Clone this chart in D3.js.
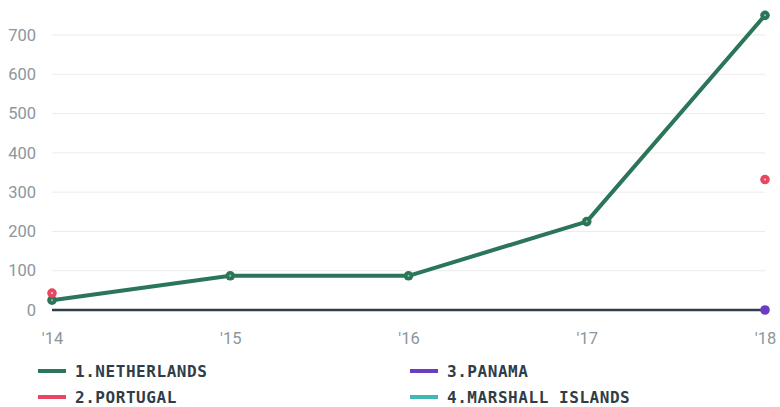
<!DOCTYPE html>
<html><head><meta charset="utf-8">
<script src="https://cdn.jsdelivr.net/npm/d3@7"></script>
<style>body{margin:0;background:#fff}svg{display:block}</style>
</head><body>
<svg id="c" width="780" height="407"></svg>
<script>
const years = ["'14","'15","'16","'17","'18"];
const yTicks = [0,100,200,300,400,500,600,700];
const seriesNames = ["1.NETHERLANDS","2.PORTUGAL","3.PANAMA","4.MARSHALL ISLANDS"];
const seriesColors = ["#2b7659","#e9475f","#6a3cc4","#3fb8b3"];
const netherlands = [25,87,87,225,750];
const portugal = [43,null,null,null,332];
const panama = [null,null,null,null,0];
const marshall = [null,null,null,null,null];
const seriesValues = [netherlands,portugal,panama,marshall];

const svg = d3.select("#c");
const x = d3.scalePoint().domain(years).range([52,765]);
const y = d3.scaleLinear().domain([0,700]).range([310,35]);
const tickFont = "Roboto, 'DejaVu Sans Condensed', sans-serif";

// grid
svg.append("g").selectAll("line").data(yTicks.filter(d=>d>0)).join("line")
  .attr("x1",52).attr("x2",765).attr("y1",d=>y(d)).attr("y2",d=>y(d))
  .attr("stroke","#ebebeb").attr("stroke-width",1);

// y axis labels
const yAxis = svg.append("g").attr("transform","translate(36,0)")
  .call(d3.axisLeft(y).tickValues(yTicks).tickSize(0).tickPadding(0));
yAxis.select(".domain").remove();
yAxis.selectAll("text").attr("fill","#8c969b").attr("font-size","16.5px")
  .attr("font-family",tickFont);

// x axis labels
const xAxis = svg.append("g").attr("transform","translate(0,332)")
  .call(d3.axisBottom(x).tickSize(0).tickPadding(0));
xAxis.select(".domain").remove();
xAxis.selectAll("text").attr("fill","#8c969b").attr("font-size","16.5px").attr("dy","0.71em")
  .attr("font-family",tickFont);

// zero line
svg.append("line").attr("x1",52).attr("x2",765).attr("y1",y(0)).attr("y2",y(0))
  .attr("stroke","#333f48").attr("stroke-width",2.5);

// lines & points
seriesValues.forEach((vals,i)=>{
  const all = vals.map((v,j)=>({v, k:years[j]}));
  const pts = all.filter(d=>d.v!==null);
  const col = seriesColors[i];
  svg.append("path").datum(all)
    .attr("d", d3.line().defined(d=>d.v!==null).x(d=>x(d.k)).y(d=>y(d.v)))
    .attr("fill","none").attr("stroke",col).attr("stroke-width",4)
    .attr("stroke-linejoin","round");
  const g = svg.append("g");
  g.selectAll("circle.o").data(pts).join("circle").attr("class","o")
    .attr("cx",d=>x(d.k)).attr("cy",d=>y(d.v)).attr("r",4.8).attr("fill",col);
  if(i<2){
    g.selectAll("circle.i").data(pts).join("circle").attr("class","i")
      .attr("cx",d=>x(d.k)).attr("cy",d=>y(d.v)).attr("r",1)
      .attr("fill", i===0 ? "#9cc9b5" : "#ffd3da");
  }
});

// legend
const legX = [38,38,410,410];
const legY = [371,397,371,397];
const leg = svg.append("g");
seriesNames.forEach((n,i)=>{
  leg.append("line").attr("x1",legX[i]).attr("x2",legX[i]+28)
    .attr("y1",legY[i]).attr("y2",legY[i]).attr("stroke",seriesColors[i]).attr("stroke-width",4);
  leg.append("text").attr("x",legX[i]+37).attr("y",legY[i]).attr("dy","0.36em")
    .attr("font-family","'DejaVu Sans Mono',monospace").attr("font-weight","bold")
    .attr("font-size","16px").attr("letter-spacing","0.55px").attr("fill","#2f3d48").text(n);
});
</script>
</body></html>
